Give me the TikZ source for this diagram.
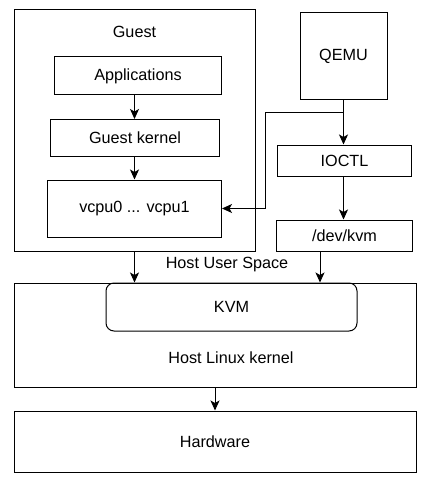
\documentclass[tikz,border=0pt]{standalone}
\usepackage{fontspec}
\setmainfont{Liberation Sans}
\usetikzlibrary{arrows.meta,positioning}
\begin{document}
\begin{tikzpicture}[x=1pt, y=-1pt, line width=1pt,
    box/.style={draw, rectangle, inner sep=0pt, font=\fontsize{16.2}{19}\selectfont},
    lbl/.style={inner sep=0pt, font=\fontsize{16.2}{19}\selectfont},
    arr/.style={-{Stealth[length=10pt, width=9pt, inset=2.5pt]}}]
            \useasboundingbox (0,0) rectangle (436,484);
            % Guest
            \node[box, minimum width=241pt, minimum height=241pt] (guest) at (134.5,130.5) {};
            \node[lbl] (guestlbl) at (134.5,32) {Guest};
            \node[box, minimum width=167pt, minimum height=38pt] (apps) at (138,76) {Applications};
            \node[box, minimum width=169pt, minimum height=37pt] (gkernel) at (135,138) {Guest kernel};
            \node[box, minimum width=174pt, minimum height=57pt] (vcpu) at (134.5,208.5) {vcpu0 ... vcpu1};
            % QEMU side
            \node[box, minimum width=87pt, minimum height=87pt] (qemu) at (343.5,56.5) {QEMU};
            \node[box, minimum width=134pt, minimum height=31pt] (ioctl) at (344.5,160.5) {IOCTL};
            \node[box, minimum width=136pt, minimum height=31pt] (devkvm) at (344.5,235.5) {/dev/kvm};
            % Host
            \node[box, minimum width=402pt, minimum height=104pt] (host) at (215,335) {};
            \node[box, rounded corners=8pt, minimum width=251pt, minimum height=48pt] (kvm) at (231.5,307) {KVM};
            \node[lbl] (hostlbl) at (231,358) {Host Linux kernel};
            \node[lbl] (userlbl) at (227,265) {Host User Space};
            \node[box, minimum width=402pt, minimum height=61pt] (hw) at (215,441.5) {Hardware};
            % Connections
            \coordinate (split) at (qemu.south |- 0,113);
            \coordinate (bend) at (265,113);
            \draw[arr] (qemu.south) -- (ioctl.north -| qemu.south);
            \draw[arr] (split) -- (bend) |- (vcpu.east);
            \draw[arr] (ioctl.south -| qemu.south) -- (devkvm.north -| qemu.south);
            \draw[arr] ([xshift=-24.5pt]devkvm.south) -- ([xshift=-24.5pt]devkvm.south |- host.north);
            \draw[arr] (guest.south) -- (host.north -| guest.south);
            \draw (apps.south -| guest.center) edge[arr] (gkernel.north -| guest.center);
            \draw (gkernel.south -| guest.center) edge[arr] (vcpu.north -| guest.center);
            \draw[arr] (host.south) -- (hw.north);
        \end{tikzpicture}
\end{document}
